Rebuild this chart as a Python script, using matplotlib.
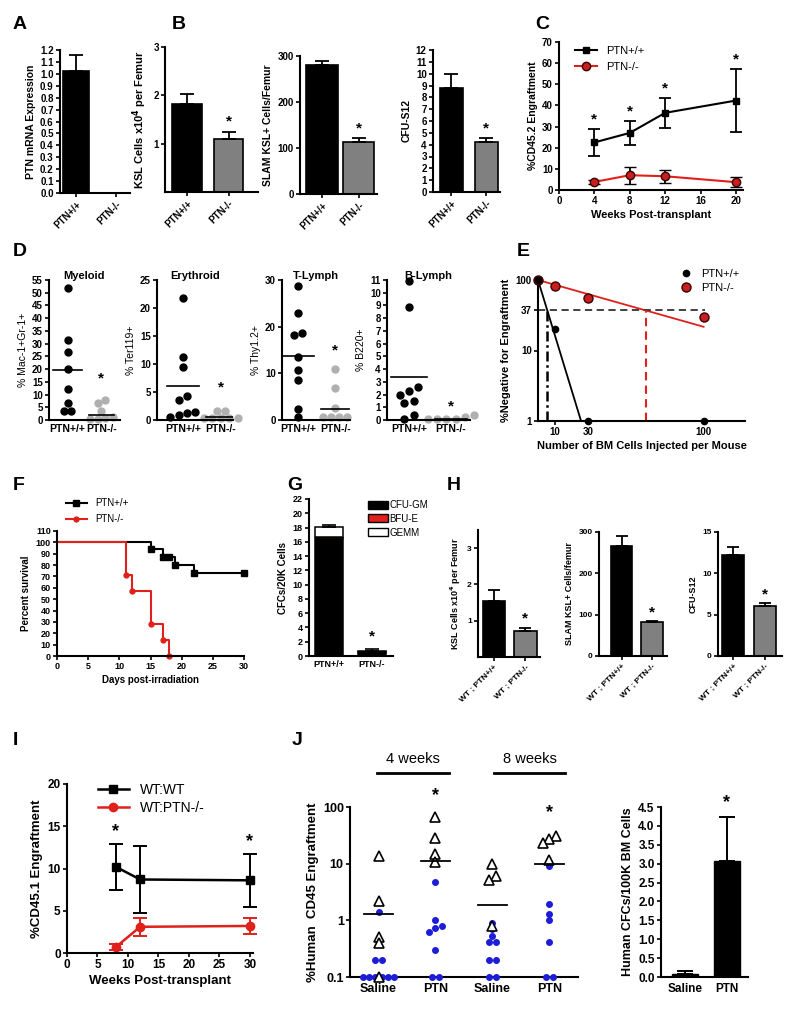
import numpy as np
import matplotlib
matplotlib.use("Agg")
import matplotlib.pyplot as plt
import matplotlib.transforms as mtrans
from matplotlib.lines import Line2D
from matplotlib.patches import Patch
from matplotlib.ticker import NullLocator

plt.rcParams['font.family'] = ['Liberation Sans', 'DejaVu Sans']
plt.rcParams['font.weight'] = 'bold'
plt.rcParams['axes.labelweight'] = 'bold'
plt.rcParams['axes.linewidth'] = 1.5
plt.rcParams['axes.labelpad'] = 3

# ---- values ----
geno = ["PTN+/+", "PTN-/-"]
geno_wt = ["WT ; PTN+/+", "WT ; PTN-/-"]

# A
a_mean = [1.02, 0.0]
a_err = [0.14, 0.0]

# B
b_ksl = [1.83, 1.09]
b_ksl_err = [0.19, 0.15]
b_slam = [280, 112]
b_slam_err = [10, 9]
b_cfu = [8.75, 4.2]
b_cfu_err = [1.25, 0.35]

# C
c_weeks = [4, 8, 12, 20]
c_wt = [22.5, 27.0, 36.5, 42.3]
c_wt_err = [6.2, 5.8, 7.2, 15.0]
c_ko = [3.8, 7.0, 6.5, 3.7]
c_ko_err = [0.8, 4.0, 3.0, 2.3]

# D
d_titles = ["Myeloid", "Erythroid", "T-Lymph", "B-Lymph"]
d_ylabels = ["% Mac-1+Gr-1+", "% Ter119+", "% Thy1.2+", "% B220+"]
d_wt = [
    [52, 31.4, 26.8, 19.9, 12.2, 6.5, 3.7, 3.7],
    [21.8, 11.2, 9.5, 4.3, 3.6, 1.5, 1.2, 0.9, 0.6],
    [28.8, 23.0, 18.6, 18.2, 13.4, 10.7, 8.6, 2.3, 0.7],
    [10.9, 8.9, 2.6, 2.3, 1.96, 1.5, 1.36, 0.4, 0.08],
]
d_ko = [
    [7.9, 6.8, 3.7, 1.2, 0.8, 0.5, 0.5],
    [1.6, 1.6, 0.4, 0.4, 0.4, 0.4, 0.4],
    [10.9, 6.8, 2.6, 0.6, 0.6, 0.6, 0.6],
    [0.4, 0.25, 0.1, 0.1, 0.1, 0.1],
]
d_wt_mean = [19.6, 6.1, 13.8, 3.35]
d_ko_mean = [2.1, 0.5, 2.4, 0.1]
d_star = [16.5, 5.8, 15.0, 1.05]
d_ymax = [55, 25, 30, 11]
d_ystep = [5, 5, 10, 1]

# E
e_cells = [0, 10, 30, 100]
e_wt = [100, 20.5, 1, 1]
e_ko = [100, 82, 56, 30]
e_wt_fit_x = [0, 26]
e_wt_fit_y = [100, 1]
e_ko_fit_x = [0, 100]
e_ko_fit_y = [100, 21.7]
e_level = 37

# F
f_wt_days = [0, 15, 17, 18, 19, 22, 30]
f_wt_surv = [100, 93.75, 87.5, 87.5, 80, 73.3, 73.3]
f_ko_days = [0, 11, 12, 15, 17, 18]
f_ko_surv = [100, 71.4, 57.1, 28.6, 14.3, 0]

# G
g_gm = [16.6, 0.5]
g_bfue = [0.12, 0.12]
g_gemm = [1.38, 0.08]
g_err = [0.22, 0.3]

# H
h_ksl = [1.53, 0.73]
h_ksl_err = [0.33, 0.08]
h_slam = [265, 82]
h_slam_err = [25, 3]
h_cfu = [12.2, 6.0]
h_cfu_err = [1.0, 0.4]

# I
i_weeks = [8, 12, 30]
i_wt = [10.2, 8.7, 8.6]
i_wt_err = [2.7, 4.0, 3.1]
i_ko = [0.7, 3.1, 3.2]
i_ko_err = [0.4, 1.1, 0.9]
i_star_weeks = [8, 30]

# J
j_groups = ["Saline", "PTN", "Saline", "PTN"]
j_tri = [[13.5, 2.2, 0.5, 0.4, 0.1], [66, 28.5, 15, 10.8],
         [9.8, 6.1, 5.1, 0.81], [30.5, 27, 23.5, 11.8]]
j_dot = [[1.43, 0.2, 0.2, 0.1, 0.1, 0.1, 0.1, 0.1, 0.1],
         [4.7, 1.0, 0.81, 0.72, 0.61, 0.3, 0.1, 0.1],
         [0.91, 0.71, 0.52, 0.41, 0.41, 0.2, 0.2, 0.1, 0.1],
         [9.2, 1.95, 1.3, 1.0, 0.41, 0.1, 0.1]]
j_mean = [1.3, 11.0, 1.9, 10.0]
j_star = [None, 160, None, 81]
j_cfc = [0.07, 3.07]
j_cfc_err = [0.1, 1.17]

RED = '#e0201b'
GRAY = '#808080'
LGRAY = '#b0b0b0'
BLUE = '#1d1dd6'

fig = plt.figure(figsize=(8, 10.17), dpi=100)
W, H = 800, 1017


def box(l, t, r, b):
    return fig.add_axes([l / W, 1 - b / H, (r - l) / W, (b - t) / H])


def clean(ax, fs=7):
    ax.spines['top'].set_visible(False)
    ax.spines['right'].set_visible(False)
    ax.tick_params(labelsize=fs, length=3, width=1.2, pad=1.5)


def star(ax, x, y, fs=11):
    ax.text(x, y, '*', ha='center', va='center', fontsize=fs,
            fontweight='bold', clip_on=False)


def letter(x, y, s):
    fig.text(x / W, 1 - y / H, s, fontsize=14, fontweight='bold', va='top', ha='left')


def swarm(vals, step, tol, log=False):
    v = np.log10(vals) if log else np.asarray(vals, float)
    order = np.argsort(v, kind='stable')
    off = np.zeros(len(v))

    def flush(g):
        n = len(g)
        for k, idx in enumerate(g):
            off[idx] = (k - (n - 1) / 2) * step

    group = [order[0]]
    for idx in order[1:]:
        if v[idx] - v[group[-1]] <= tol:
            group.append(idx)
        else:
            flush(group)
            group = [idx]
    flush(group)
    return off


def bar_panel(ax, vals, errs, labels, ymax, yticks, ylabel, width, xlim,
              fs=7, lfs=7.5, cap=5, do_star=True, ticklabels=None):
    x = np.arange(len(vals))
    ax.bar(x, vals, width, color=['black', GRAY], edgecolor='black', linewidth=1.2, zorder=2)
    ax.errorbar(x, vals, yerr=[np.zeros(len(errs)), errs], fmt='none', ecolor='black',
                elinewidth=1.3, capsize=cap, capthick=1.3, zorder=3)
    ax.set_xlim(*xlim)
    ax.set_ylim(0, ymax)
    ax.set_yticks(yticks)
    if ticklabels is not None:
        ax.set_yticklabels(ticklabels)
    ax.set_xticks(x)
    ax.set_xticklabels(labels, rotation=45, ha='right', rotation_mode='anchor')
    ax.set_ylabel(ylabel, fontsize=lfs)
    clean(ax, fs)
    if do_star:
        star(ax, 1, vals[1] + errs[1] + 0.07 * ymax)


# ---- A ----
ax = box(60, 50, 130, 193)
bar_panel(ax, a_mean, a_err, geno, 1.2, np.arange(0, 1.21, 0.1), 'PTN mRNA Expression',
          0.65, (-0.4, 1.35), do_star=False, ticklabels=[f'{v:.1f}' for v in np.arange(0, 1.21, 0.1)])
letter(13, 16, 'A')

# ---- B ----
ax = box(165, 47, 258, 192)
bar_panel(ax, b_ksl, b_ksl_err, geno, 3, [1, 2, 3], 'KSL Cells x10$^4$ per Femur',
          0.72, (-0.53, 1.71), lfs=8)
ax = box(300, 56, 377, 194)
bar_panel(ax, b_slam, b_slam_err, geno, 300, [0, 100, 200, 300], 'SLAM KSL+ Cells/Femur',
          0.85, (-0.6, 1.5))
ax = box(433, 50, 500, 192)
bar_panel(ax, b_cfu, b_cfu_err, geno, 12, range(0, 13), 'CFU-S12',
          0.68, (-0.53, 1.39))
letter(172, 16, 'B')

# ---- C ----
ax = box(559, 42, 743, 190)
ax.errorbar(c_weeks, c_wt, yerr=c_wt_err, color='black', marker='s', ms=5, lw=1.5,
            capsize=4, capthick=1.3, elinewidth=1.3, clip_on=False)
ax.errorbar(c_weeks, c_ko, yerr=c_ko_err, color=RED, marker='o', ms=6, mfc='#c81e1e',
            mec='#3a0000', mew=1, lw=1.5, ecolor='black', capsize=4, capthick=1.3,
            elinewidth=1.3, clip_on=False)
for w, m, e in zip(c_weeks, c_wt, c_wt_err):
    star(ax, w, m + e + 4.5)
ax.set_xlim(0, 20.8)
ax.set_ylim(0, 70)
ax.set_xticks([0, 4, 8, 12, 16, 20])
ax.set_yticks(range(0, 71, 10))
ax.set_xlabel('Weeks Post-transplant', fontsize=8)
ax.set_ylabel('%CD45.2 Engraftment', fontsize=7.5)
clean(ax)
h = [Line2D([], [], color='black', marker='s', ms=5, lw=1.5),
     Line2D([], [], color=RED, marker='o', ms=6, mfc='#c81e1e', mec='#3a0000', lw=1.5)]
ax.legend(h, geno, loc='upper left', bbox_to_anchor=(0.03, 1.04), frameon=False,
          prop={'weight': 'normal', 'size': 8}, handlelength=2.0, labelspacing=0.5)
letter(535, 16, 'C')

# ---- D ----
d_boxes = [(49, 280, 120, 420), (157, 280, 233, 420), (282, 280, 350, 420), (387, 280, 470, 420)]
d_xlims = [(-0.55, 1.55), (-0.68, 1.32), (-0.43, 1.4), (-0.52, 1.45)]
for i in range(4):
    ax = box(*d_boxes[i])
    tol = 0.035 * d_ymax[i]
    xw = swarm(d_wt[i], 0.22, tol)
    xk = 1 + swarm(d_ko[i], 0.22, tol)
    ax.plot(xw, d_wt[i], 'o', color='black', ms=5, clip_on=False)
    ax.plot(xk, d_ko[i], 'o', color=LGRAY, ms=5, clip_on=False)
    ax.plot([-0.42, 0.42], [d_wt_mean[i]] * 2, color='black', lw=1.2)
    ax.plot([0.62, 1.38], [d_ko_mean[i]] * 2, color='black', lw=1.2)
    star(ax, 1, d_star[i])
    ax.set_xlim(*d_xlims[i])
    ax.set_ylim(0, d_ymax[i])
    ax.set_yticks(np.arange(0, d_ymax[i] + 0.1, d_ystep[i]))
    ax.set_xticks([0, 1])
    ax.set_xticklabels(geno, fontsize=7.5)
    ax.set_ylabel(d_ylabels[i], fontsize=7.5, fontweight='normal')
    clean(ax)
    ax.tick_params(axis='x', length=0, pad=3, labelsize=7.5)
    ax.text(0.5, 1.03, d_titles[i], transform=ax.transAxes, ha='center', va='center',
            fontsize=8)
letter(13, 243, 'D')

# ---- E ----
ax = box(538, 280, 745, 421)
ax.set_yscale('log')


def cross(x, y, level):
    ly = np.log10(y)
    return x[0] + (np.log10(level) - ly[0]) / (ly[1] - ly[0]) * (x[1] - x[0])


x37_wt = cross(e_wt_fit_x, e_wt_fit_y, e_level)
x37_ko = cross(e_ko_fit_x, e_ko_fit_y, e_level)
ax.plot(e_wt_fit_x, e_wt_fit_y, color='black', lw=1.3)
ax.plot(e_ko_fit_x, e_ko_fit_y, color=RED, lw=1.3)
ax.plot([0, e_cells[-1] + 1], [e_level, e_level], color='#333333', lw=1.3, ls=(0, (4, 2.5)))
ax.plot([x37_wt, x37_wt], [1, e_level], color='black', lw=1.8, ls=(0, (4, 1.5, 1, 1.5)))
ax.plot([x37_ko, x37_ko], [1, e_level], color=RED, lw=1.5, ls=(0, (4, 2.5)))
ax.plot(e_cells, e_ko, 'o', ms=6.5, mfc='#c81e1e', mec='#3a0000', mew=1, clip_on=False, zorder=4)
ax.plot(e_cells, e_wt, 'o', ms=4.5, color='black', clip_on=False, zorder=5)
ax.set_ylim(1, 100)
ax.set_xlim(0, 125)
ax.set_yticks([1, 10, e_level, 100])
ax.set_yticklabels(['1', '10', str(e_level), '100'])
ax.yaxis.set_minor_locator(NullLocator())
ax.set_xticks([10, 30, 100])
ax.set_xlabel('Number of BM Cells Injected per Mouse', fontsize=8)
ax.set_ylabel('%Negative for Engraftment', fontsize=8)
clean(ax)
h = [Line2D([], [], ls='none', marker='o', ms=4.5, color='black'),
     Line2D([], [], ls='none', marker='o', ms=6.5, mfc='#c81e1e', mec='#3a0000')]
ax.legend(h, geno, loc='upper right', bbox_to_anchor=(1.02, 1.15), frameon=False,
          prop={'weight': 'normal', 'size': 8}, handlelength=1.0, labelspacing=0.4)
letter(517, 243, 'E')

# ---- F ----
ax = box(57, 531, 244, 656)
ax.step(f_wt_days, f_wt_surv, where='post', color='black', lw=1.5)
ax.plot(f_wt_days[1:], f_wt_surv[1:], 's', color='black', ms=4.5, clip_on=False)
ax.step(f_ko_days, f_ko_surv, where='post', color=RED, lw=1.5)
ax.plot(f_ko_days[1:], f_ko_surv[1:], 'o', color=RED, ms=3.5, clip_on=False)
ax.set_xlim(0, 30)
ax.set_ylim(0, 110)
ax.set_xticks(range(0, 31, 5))
ax.set_yticks(range(0, 111, 10))
ax.set_xlabel('Days post-irradiation', fontsize=7)
ax.set_ylabel('Percent survival', fontsize=7)
clean(ax, 6.5)
h = [Line2D([], [], color='black', marker='s', ms=4.5, lw=1.5),
     Line2D([], [], color=RED, marker='o', ms=3.5, lw=1.5)]
ax.legend(h, geno, loc='upper left', bbox_to_anchor=(0.0, 1.33), frameon=False,
          prop={'weight': 'normal', 'size': 7}, handlelength=2.2, labelspacing=0.6)
letter(13, 477, 'F')

# ---- G ----
ax = box(309, 499, 393, 656)
x = np.arange(2)
gm = np.array(g_gm)
bf = np.array(g_bfue)
ge = np.array(g_gemm)
ax.bar(x, gm, 0.65, color='black', edgecolor='black', lw=1.1, label='CFU-GM')
ax.bar(x, bf, 0.65, bottom=gm, color=RED, edgecolor='black', lw=0.6, label='BFU-E')
ax.bar(x, ge, 0.65, bottom=gm + bf, color='white', edgecolor='black', lw=1.1, label='GEMM')
tot = gm + bf + ge
ax.errorbar(x, tot, yerr=[np.zeros(2), g_err], fmt='none', ecolor='black',
            elinewidth=1.2, capsize=5, capthick=1.2)
star(ax, 1, tot[1] + g_err[1] + 0.08 * 22)
ax.set_xlim(-0.47, 1.49)
ax.set_ylim(0, 22)
ax.set_yticks(range(0, 23, 2))
ax.set_xticks(x)
ax.set_xticklabels(geno, fontsize=6.5)
ax.set_ylabel('CFCs/20K Cells', fontsize=7)
clean(ax, 6.5)
ax.tick_params(axis='x', length=0, pad=3)
h = [Patch(facecolor='black', edgecolor='black'), Patch(facecolor=RED, edgecolor='black'),
     Patch(facecolor='white', edgecolor='black')]
ax.legend(h, ['CFU-GM', 'BFU-E', 'GEMM'], loc='upper left', bbox_to_anchor=(0.6, 1.05),
          frameon=False, prop={'weight': 'normal', 'size': 7}, handlelength=2.0,
          handleheight=0.9, handletextpad=0.2, labelspacing=0.4)
letter(287, 477, 'G')

# ---- H ----
ax = box(478, 530, 540, 657)
bar_panel(ax, h_ksl, h_ksl_err, geno_wt, 3.5, [1, 2, 3], 'KSL Cells x10$^4$ per Femur',
          0.7, (-0.5, 1.46), fs=6, lfs=6.5, cap=4)
ax = box(599, 532, 667, 656)
bar_panel(ax, h_slam, h_slam_err, geno_wt, 300, [0, 100, 200, 300], 'SLAM KSL+ Cells/femur',
          0.7, (-0.74, 1.49), fs=6, lfs=6.5, cap=4)
ax = box(718, 532, 782, 656)
bar_panel(ax, h_cfu, h_cfu_err, geno_wt, 15, [0, 5, 10, 15], 'CFU-S12',
          0.7, (-0.49, 1.54), fs=6, lfs=6.5, cap=4)
letter(447, 477, 'H')

# ---- I ----
ax = box(67, 784, 253, 953)
ax.errorbar(i_weeks, i_wt, yerr=i_wt_err, color='black', marker='s', ms=6, lw=1.8,
            capsize=5, capthick=1.4, elinewidth=1.4, clip_on=False)
ax.errorbar(i_weeks, i_ko, yerr=i_ko_err, color=RED, marker='o', ms=6, lw=1.8,
            capsize=5, capthick=1.4, elinewidth=1.4, clip_on=False)
for w in i_star_weeks:
    k = i_weeks.index(w)
    star(ax, w, i_wt[k] + i_wt_err[k] + 1.5, fs=13)
ax.set_xlim(0, 30.5)
ax.set_ylim(0, 20)
ax.set_xticks(range(0, 31, 5))
ax.set_yticks(range(0, 21, 5))
ax.set_xlabel('Weeks Post-transplant', fontsize=9.5)
ax.set_ylabel('%CD45.1 Engraftment', fontsize=9.5)
clean(ax, 8.5)
h = [Line2D([], [], color='black', marker='s', ms=6, lw=1.8),
     Line2D([], [], color=RED, marker='o', ms=6, lw=1.8)]
ax.legend(h, ['WT:WT', 'WT:PTN-/-'], loc='upper left', bbox_to_anchor=(0.1, 1.08),
          frameon=False, prop={'weight': 'normal', 'size': 10}, handlelength=2.2,
          labelspacing=0.3)
letter(13, 732, 'I')

# ---- J ----
ax = box(350, 807, 578, 977)
ax.set_yscale('log')
for g in range(4):
    pos = g + 1
    xt = pos + swarm(j_tri[g], 0.11, 0.09, log=True)
    xd = pos + swarm(j_dot[g], 0.11, 0.09, log=True)
    ax.plot(xd, j_dot[g], 'o', color=BLUE, ms=4, clip_on=False, zorder=3)
    ax.plot(xt, j_tri[g], '^', mfc='white', mec='black', mew=1.2, ms=7, clip_on=False, zorder=4)
    ax.plot([pos - 0.25, pos + 0.25], [j_mean[g]] * 2, color='black', lw=1.3, zorder=5)
    if j_star[g] is not None:
        star(ax, pos, j_star[g], fs=13)
ax.set_xlim(0.5, 4.5)
ax.set_ylim(0.1, 100)
ax.set_yticks([0.1, 1, 10, 100])
ax.set_yticklabels(['0.1', '1', '10', '100'])
ax.yaxis.set_minor_locator(NullLocator())
ax.set_xticks(range(1, 5))
ax.set_xticklabels(j_groups, fontsize=9)
ax.set_ylabel('%Human  CD45 Engraftment', fontsize=9.5)
clean(ax, 9)
ax.tick_params(axis='x', length=0, pad=4)
tr = mtrans.blended_transform_factory(ax.transData, ax.transAxes)
for c, lab in [(1.6, '4 weeks'), (3.65, '8 weeks')]:
    ax.plot([c - 0.63, c + 0.63], [1.2, 1.2], color='black', lw=2, transform=tr, clip_on=False)
    ax.text(c, 1.28, lab, transform=tr, ha='center', va='center', fontsize=10.5,
            fontweight='normal')

ax = box(661, 807, 748, 977)
x = np.arange(2)
ax.bar(x, j_cfc, 0.62, color='black', edgecolor='black')
ax.errorbar(x, j_cfc, yerr=[np.zeros(2), j_cfc_err], fmt='none', ecolor='black',
            elinewidth=1.4, capsize=6, capthick=1.4)
star(ax, 1, j_cfc[1] + j_cfc_err[1] + 0.38, fs=13)
ax.set_xlim(-0.57, 1.5)
ax.set_ylim(0, 4.5)
ax.set_yticks(np.arange(0, 4.51, 0.5))
ax.set_yticklabels([f'{v:.1f}' for v in np.arange(0, 4.51, 0.5)])
ax.set_xticks(x)
ax.set_xticklabels(['Saline', 'PTN'], fontsize=9)
ax.set_ylabel('Human CFCs/100K BM Cells', fontsize=9)
clean(ax, 8.5)
ax.tick_params(axis='x', length=0, pad=4)
letter(292, 732, 'J')

fig.savefig('out.png', dpi=100, facecolor='white')
